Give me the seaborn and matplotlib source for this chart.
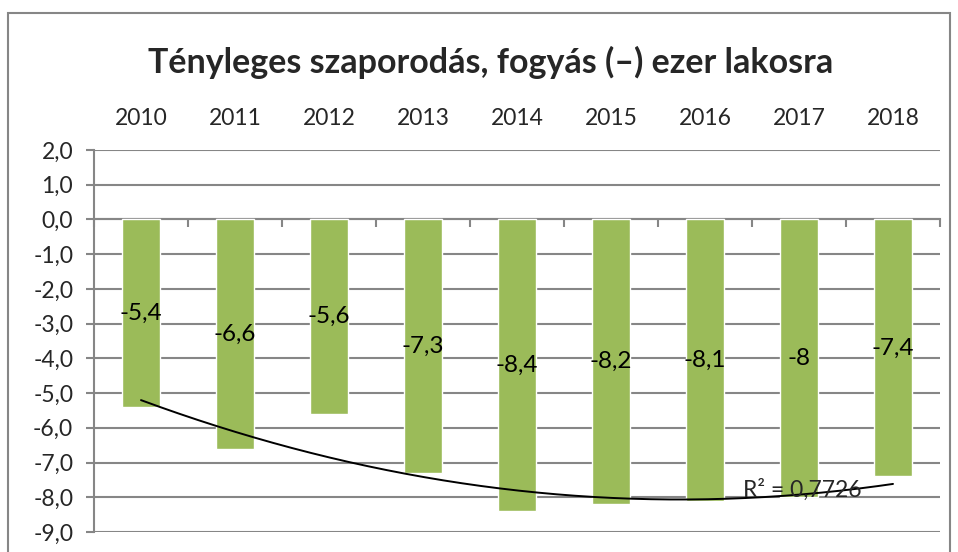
import numpy as np
import pandas as pd
import matplotlib
matplotlib.use('Agg')
import matplotlib.pyplot as plt
import seaborn as sns
from matplotlib.ticker import FuncFormatter, FixedLocator, MultipleLocator
from matplotlib.patches import Rectangle

years = ['2010', '2011', '2012', '2013', '2014', '2015', '2016', '2017', '2018']
values = [-5.4, -6.6, -5.6, -7.3, -8.4, -8.2, -8.1, -8.0, -7.4]
r2_label = 'R² = 0,7726'
title = 'Tényleges szaporodás, fogyás (–) ezer lakosra'

GREEN = '#9BBB59'
GRID = '#868686'

sns.set_theme(style='white')
plt.rcParams['font.family'] = ['Lato', 'DejaVu Sans']

df = pd.DataFrame({'year': years, 'value': values})

fig = plt.figure(figsize=(9.58, 5.52), dpi=100)
ax = fig.add_axes([94 / 958, 1 - 532 / 552, 846 / 958, 382 / 552])

sns.barplot(data=df, x='year', y='value', color=GREEN, saturation=1,
            width=0.4, ax=ax, zorder=3)

# data labels centred in the bars
for i, v in enumerate(values):
    ax.text(i, v / 2, f"{v:g}".replace('.', ','), ha='center', va='center',
            fontsize=17.5, color='black', zorder=5)

# polynomial (order 2) trend line
xs = np.arange(len(values))
coef = np.polyfit(xs, values, 2)
xx = np.linspace(0, len(values) - 1, 200)
ax.plot(xx, np.polyval(coef, xx), color='black', lw=1.4, zorder=4)
ax.text(6.4, -7.78, r2_label, fontsize=16.5, ha='left', va='center', zorder=6)

ax.set_ylim(-9, 2)
ax.set_xlim(-0.5, len(values) - 0.5)
ax.yaxis.set_major_locator(MultipleLocator(1))
ax.yaxis.set_major_formatter(FuncFormatter(lambda v, p: f"{v:.1f}".replace('.', ',')))
ax.grid(axis='y', color=GRID, lw=1.5, zorder=0)
ax.set_axisbelow(True)

for s in ['top', 'right']:
    ax.spines[s].set_visible(False)
ax.spines['left'].set_color(GRID)
ax.spines['left'].set_linewidth(1.5)
ax.spines['bottom'].set_position(('data', 0))
ax.spines['bottom'].set_color(GRID)
ax.spines['bottom'].set_linewidth(1.5)

# category labels on top, boundary ticks on the zero line
ax.xaxis.set_minor_locator(FixedLocator(np.arange(-0.5, len(values), 1)))
ax.tick_params(axis='x', which='major', top=False, bottom=False,
               labeltop=True, labelbottom=False, pad=9, labelsize=16.5)
ax.tick_params(axis='x', which='minor', bottom=True, top=False,
               direction='out', length=6, width=1.5, color=GRID)
ax.tick_params(axis='y', left=True, length=6, width=1.5, color=GRID,
               labelsize=16.5, pad=9)
ax.set_xlabel('')
ax.set_ylabel('')

fig.text(0.512, 1 - 62 / 552, title, ha='center', va='center',
         fontsize=24.5, fontweight='bold')

# chart border
fig.patches.append(Rectangle((8 / 958, -0.01), 942 / 958, 1 - 13 / 552 + 0.01,
                             transform=fig.transFigure, fill=False,
                             edgecolor=GRID, lw=1.5))

fig.savefig('out.png', dpi=100)
